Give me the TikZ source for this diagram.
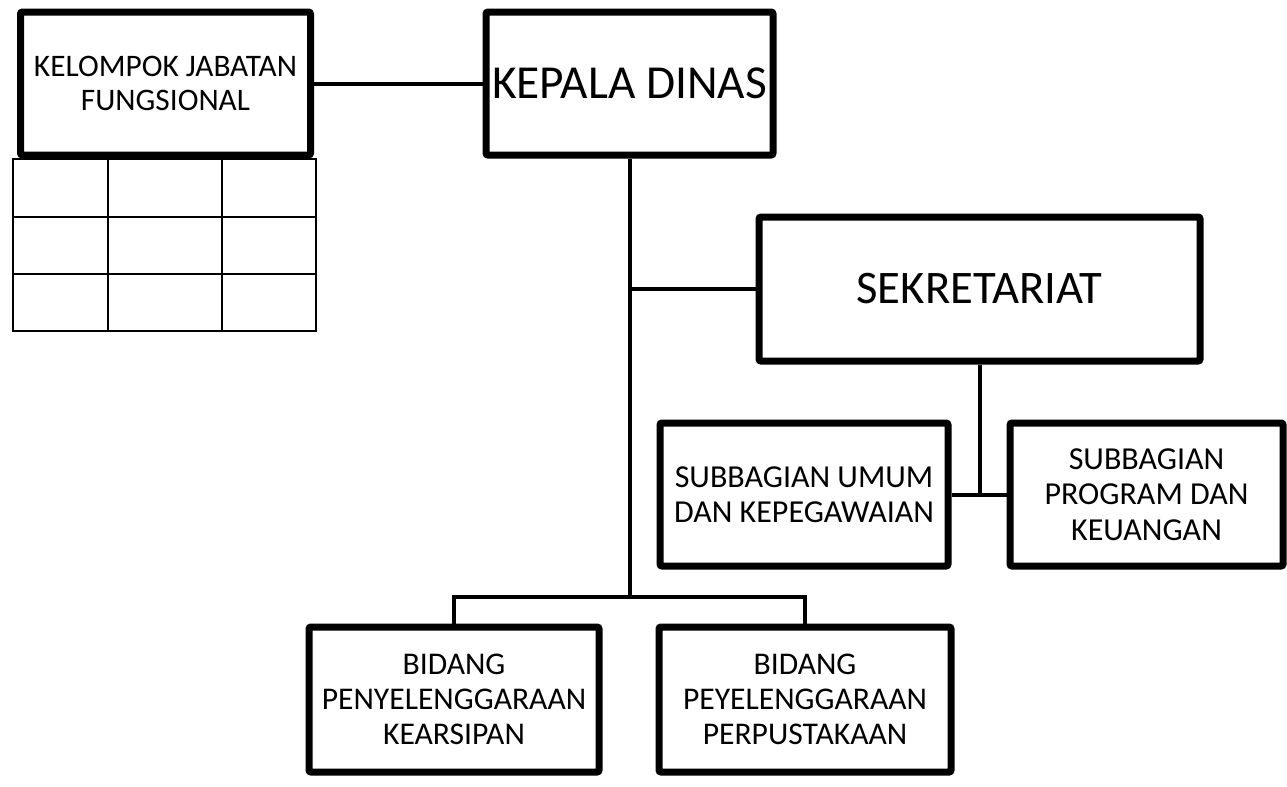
\documentclass[tikz,border=0pt]{standalone}
\usepackage{fontspec}
\setmainfont{Carlito}
\usetikzlibrary{shadows}
\begin{document}
\begin{tikzpicture}[x=0.75pt,y=-0.75pt,
  box/.style={draw=black, line width=5.25pt, fill=white, rectangle, inner sep=0pt,
    align=center, rounded corners=1.5pt,
    drop shadow={opacity=0.25, shadow xshift=1.5pt, shadow yshift=-1.5pt}},
  conn/.style={draw=black, line width=3pt},
  cell/.style={draw=black, line width=1.5pt}]
\useasboundingbox (0,0) rectangle (1287,786);
\fill[white] (0,0) rectangle (1287,786);

% boxes
\node[box, minimum width=217.5pt, minimum height=107.25pt,
  font=\fontsize{23.5}{25.5}\selectfont] (kjf) at (165.5,83.5) {KELOMPOK JABATAN\\FUNGSIONAL};
\node[box, minimum width=215.25pt, minimum height=107.25pt,
  font=\fontsize{35.5}{40}\selectfont] (kd) at (629.5,83.5) {KEPALA DINAS};
\node[box, minimum width=330.75pt, minimum height=108pt,
  font=\fontsize{35}{40}\selectfont] (sek) at (979.5,289) {SEKRETARIAT};
\node[box, minimum width=216pt, minimum height=107.25pt,
  font=\fontsize{24}{26}\selectfont] (su) at (804,494.5) {SUBBAGIAN UMUM\\DAN KEPEGAWAIAN};
\node[box, minimum width=204.75pt, minimum height=107.25pt,
  font=\fontsize{24}{26.5}\selectfont] (sp) at (1146.5,494.5) {SUBBAGIAN\\PROGRAM DAN\\KEUANGAN};
\node[box, minimum width=217.5pt, minimum height=108.75pt,
  font=\fontsize{23.7}{26.5}\selectfont] (b1) at (454,699.5) {BIDANG\\PENYELENGGARAAN\\KEARSIPAN};
\node[box, minimum width=219pt, minimum height=108.75pt,
  font=\fontsize{23.7}{26.5}\selectfont] (b2) at (805,699.5) {BIDANG\\PEYELENGGARAAN\\PERPUSTAKAAN};

% table below KELOMPOK JABATAN FUNGSIONAL
\draw[cell] (13,159) rectangle (316,331);
\draw[cell] (108,159) -- (108,331);
\draw[cell] (222,159) -- (222,331);
\draw[cell] (13,217) -- (316,217);
\draw[cell] (13,274) -- (316,274);

% connectors
\coordinate (bus) at (629.5,597);
\draw[conn] (kjf.east) -- (kd.west);
\draw[conn] (kd.south) -- (bus);
\draw[conn] (kd.south |- sek.west) -- (sek.west);
\draw[conn] (sek.south) -- (sek.south |- su.east);
\draw[conn] (su.east) -- (sp.west);
\draw[conn] (b1.north) |- (bus) -| (b2.north);
\end{tikzpicture}
\end{document}
